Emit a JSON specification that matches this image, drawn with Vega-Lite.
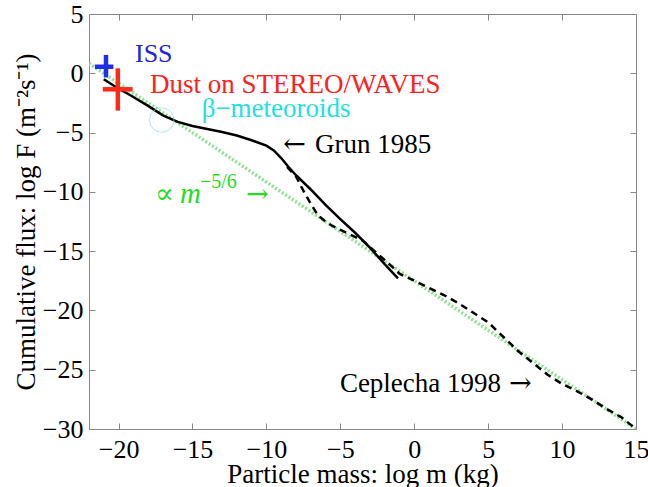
{
  "$schema": "https://vega.github.io/schema/vega-lite/v6.json",
  "width": 547,
  "height": 415,
  "autosize": {"type": "none"},
  "padding": {"left": 89, "top": 14, "right": 12, "bottom": 58},
  "background": "white",
  "config": {
    "font": "Liberation Serif",
    "mark": {"font": "Liberation Serif"},
    "text": {"font": "Liberation Serif"},
    "view": {"stroke": "#888888", "strokeWidth": 1},
    "axis": {
      "labelFont": "Liberation Serif",
      "titleFont": "Liberation Serif",
      "labelFontSize": 26,
      "titleFontSize": 27,
      "labelColor": "black",
      "titleColor": "black",
      "titleFontWeight": "normal",
      "domainColor": "#888888",
      "tickColor": "#888888",
      "tickSize": -6,
      "labelFlush": false,
      "labelOverlap": false,
      "grid": false
    }
  },
  "datasets": {
    "grun": [
      {"logm": -21.0, "logF": -0.5},
      {"logm": -20.0, "logF": -1.3},
      {"logm": -19.2, "logF": -1.85},
      {"logm": -18.0, "logF": -2.75},
      {"logm": -17.0, "logF": -3.55},
      {"logm": -16.0, "logF": -4.1},
      {"logm": -15.0, "logF": -4.45},
      {"logm": -14.0, "logF": -4.7},
      {"logm": -13.0, "logF": -4.95},
      {"logm": -12.0, "logF": -5.25},
      {"logm": -11.0, "logF": -5.65},
      {"logm": -10.0, "logF": -6.1},
      {"logm": -9.5, "logF": -6.5},
      {"logm": -9.0, "logF": -7.15},
      {"logm": -8.5, "logF": -7.9},
      {"logm": -8.0, "logF": -8.6},
      {"logm": -7.0, "logF": -9.8},
      {"logm": -6.0, "logF": -11.1},
      {"logm": -5.0, "logF": -12.3},
      {"logm": -4.0, "logF": -13.45},
      {"logm": -3.0, "logF": -14.7},
      {"logm": -2.0, "logF": -16.1},
      {"logm": -1.1, "logF": -17.3}
    ],
    "ceplecha": [
      {"logm": -8.6, "logF": -7.9},
      {"logm": -8.0, "logF": -8.7},
      {"logm": -7.5, "logF": -9.9},
      {"logm": -7.0, "logF": -11.0},
      {"logm": -6.5, "logF": -12.0},
      {"logm": -6.0, "logF": -12.5},
      {"logm": -5.5, "logF": -12.9},
      {"logm": -4.5, "logF": -13.5},
      {"logm": -3.5, "logF": -14.1},
      {"logm": -2.5, "logF": -15.2},
      {"logm": -1.5, "logF": -16.3},
      {"logm": -1.0, "logF": -16.9},
      {"logm": 0.0, "logF": -17.5},
      {"logm": 1.0, "logF": -18.1},
      {"logm": 2.0, "logF": -18.7},
      {"logm": 3.0, "logF": -19.4},
      {"logm": 4.0, "logF": -20.2},
      {"logm": 5.0, "logF": -21.0},
      {"logm": 6.0, "logF": -22.2},
      {"logm": 7.0, "logF": -23.4},
      {"logm": 8.0, "logF": -24.4},
      {"logm": 9.0, "logF": -25.4},
      {"logm": 10.0, "logF": -26.2},
      {"logm": 11.0, "logF": -26.8},
      {"logm": 12.0, "logF": -27.5},
      {"logm": 13.0, "logF": -28.3},
      {"logm": 14.0, "logF": -29.0},
      {"logm": 15.0, "logF": -30.0}
    ],
    "powerlaw": [
      {"logm": -22.0, "logF": 0.83},
      {"logm": 15.0, "logF": -30.0}
    ],
    "crosses": [
      {"obs": "ISS", "x": -20.85, "xlo": -21.6, "xhi": -20.35, "y": 0.55, "ylo": -0.35, "yhi": 1.55},
      {"obs": "STEREO/WAVES", "x": -20.05, "xlo": -21.07, "xhi": -19.05, "y": -1.35, "ylo": -3.15, "yhi": 0.42}
    ]
  },
  "layer": [
    {
      "data": {"name": "powerlaw"},
      "mark": {"type": "line", "color": "#8fe28f", "strokeWidth": 3.5, "strokeDash": [2, 2], "clip": true},
      "encoding": {
        "x": {"field": "logm", "type": "quantitative", "scale": {"domain": [-22, 15], "nice": false, "zero": false},
              "axis": {"orient": "top", "labels": false, "title": null, "values": [-20, -15, -10, -5, 0, 5, 10, 15]}},
        "y": {"field": "logF", "type": "quantitative", "scale": {"domain": [-30, 5], "nice": false, "zero": false},
              "axis": {"orient": "right", "labels": false, "title": null, "values": [-30, -25, -20, -15, -10, -5, 0, 5]}}
      }
    },
    {
      "data": {"name": "ceplecha"},
      "mark": {"type": "line", "color": "black", "strokeWidth": 2.5, "strokeDash": [7, 5]},
      "encoding": {
        "x": {"field": "logm", "type": "quantitative",
              "axis": {"orient": "bottom", "title": "Particle mass: log m (kg)", "values": [-20, -15, -10, -5, 0, 5, 10, 15], "labelPadding": 13, "titlePadding": -1}},
        "y": {"field": "logF", "type": "quantitative",
              "axis": {"orient": "left", "title": "Cumulative flux: log F  (m⁻²s⁻¹)", "values": [-30, -25, -20, -15, -10, -5, 0, 5], "labelPadding": 12, "titlePadding": 2}}
      }
    },
    {
      "data": {"name": "grun"},
      "mark": {"type": "line", "color": "black", "strokeWidth": 2.5},
      "encoding": {
        "x": {"field": "logm", "type": "quantitative", "axis": null},
        "y": {"field": "logF", "type": "quantitative", "axis": null}
      }
    },
    {
      "data": {"values": [{"logm": -17.08, "logF": -3.94}]},
      "mark": {"type": "point", "shape": "circle", "size": 600, "color": "#7ee8e8", "strokeWidth": 1, "filled": false},
      "encoding": {
        "x": {"field": "logm", "type": "quantitative", "axis": null},
        "y": {"field": "logF", "type": "quantitative", "axis": null}
      }
    },
    {
      "data": {"name": "crosses"},
      "mark": {"type": "rule", "strokeWidth": 4.5},
      "encoding": {
        "x": {"field": "xlo", "type": "quantitative", "axis": null},
        "x2": {"field": "xhi"},
        "y": {"field": "y", "type": "quantitative", "axis": null},
        "color": {"field": "obs", "type": "nominal", "scale": {"domain": ["ISS", "STEREO/WAVES"], "range": ["#1f2fe8", "#ff2a1a"]}, "legend": null}
      }
    },
    {
      "data": {"name": "crosses"},
      "mark": {"type": "rule", "strokeWidth": 4.5},
      "encoding": {
        "x": {"field": "x", "type": "quantitative", "axis": null},
        "y": {"field": "ylo", "type": "quantitative", "axis": null},
        "y2": {"field": "yhi"},
        "color": {"field": "obs", "type": "nominal", "legend": null}
      }
    },
    {
      "data": {"values": [{"logm": -18.89, "logF": 0.98, "label": "ISS"}]},
      "mark": {"type": "text", "align": "left", "baseline": "alphabetic", "font": "Liberation Serif", "fontSize": 26, "color": "#2424e0"},
      "encoding": {"x": {"field": "logm", "type": "quantitative", "axis": null}, "y": {"field": "logF", "type": "quantitative", "axis": null}, "text": {"field": "label"}}
    },
    {
      "data": {"values": [{"logm": -17.88, "logF": -1.69, "label": "Dust on STEREO/WAVES"}]},
      "mark": {"type": "text", "align": "left", "baseline": "alphabetic", "font": "Liberation Serif", "fontSize": 27, "color": "#ff2020"},
      "encoding": {"x": {"field": "logm", "type": "quantitative", "axis": null}, "y": {"field": "logF", "type": "quantitative", "axis": null}, "text": {"field": "label"}}
    },
    {
      "data": {"values": [{"logm": -14.38, "logF": -3.66, "label": "β−meteoroids"}]},
      "mark": {"type": "text", "align": "left", "baseline": "alphabetic", "font": "Liberation Serif", "fontSize": 27, "color": "#22e0e0"},
      "encoding": {"x": {"field": "logm", "type": "quantitative", "axis": null}, "y": {"field": "logF", "type": "quantitative", "axis": null}, "text": {"field": "label"}}
    },
    {
      "data": {"values": [{"logm": -6.72, "logF": -6.72, "label": "Grun 1985"}]},
      "mark": {"type": "text", "align": "left", "baseline": "alphabetic", "font": "Liberation Serif", "fontSize": 27, "color": "black"},
      "encoding": {"x": {"field": "logm", "type": "quantitative", "axis": null}, "y": {"field": "logF", "type": "quantitative", "axis": null}, "text": {"field": "label"}}
    },
    {
      "data": {"values": [{"logm": -5.03, "logF": -26.85, "label": "Ceplecha 1998"}]},
      "mark": {"type": "text", "align": "left", "baseline": "alphabetic", "font": "Liberation Serif", "fontSize": 27, "color": "black"},
      "encoding": {"x": {"field": "logm", "type": "quantitative", "axis": null}, "y": {"field": "logF", "type": "quantitative", "axis": null}, "text": {"field": "label"}}
    },
    {
      "data": {"values": [{"logm": -8.09, "logF": -6.72, "label": "←"}, {"logm": 7.18, "logF": -26.85, "label": "→"}]},
      "mark": {"type": "text", "align": "center", "baseline": "alphabetic", "font": "DejaVu Serif", "fontSize": 27, "color": "black"},
      "encoding": {"x": {"field": "logm", "type": "quantitative", "axis": null}, "y": {"field": "logF", "type": "quantitative", "axis": null}, "text": {"field": "label"}}
    },
    {
      "data": {"values": [{"logm": -17.54, "logF": -10.96, "label": "∝"}]},
      "mark": {"type": "text", "align": "left", "baseline": "alphabetic", "font": "DejaVu Serif", "fontSize": 28, "color": "#22dd22"},
      "encoding": {"x": {"field": "logm", "type": "quantitative", "axis": null}, "y": {"field": "logF", "type": "quantitative", "axis": null}, "text": {"field": "label"}}
    },
    {
      "data": {"values": [{"logm": -15.85, "logF": -10.96, "label": "m"}]},
      "mark": {"type": "text", "align": "left", "baseline": "alphabetic", "font": "Liberation Serif", "fontSize": 29, "fontStyle": "italic", "color": "#22dd22"},
      "encoding": {"x": {"field": "logm", "type": "quantitative", "axis": null}, "y": {"field": "logF", "type": "quantitative", "axis": null}, "text": {"field": "label"}}
    },
    {
      "data": {"values": [{"logm": -14.5, "logF": -9.67, "label": "−5/6"}]},
      "mark": {"type": "text", "align": "left", "baseline": "alphabetic", "font": "Liberation Serif", "fontSize": 20, "color": "#22dd22"},
      "encoding": {"x": {"field": "logm", "type": "quantitative", "axis": null}, "y": {"field": "logF", "type": "quantitative", "axis": null}, "text": {"field": "label"}}
    },
    {
      "data": {"values": [{"logm": -10.61, "logF": -10.96, "label": "→"}]},
      "mark": {"type": "text", "align": "center", "baseline": "alphabetic", "font": "DejaVu Serif", "fontSize": 27, "color": "#22dd22"},
      "encoding": {"x": {"field": "logm", "type": "quantitative", "axis": null}, "y": {"field": "logF", "type": "quantitative", "axis": null}, "text": {"field": "label"}}
    }
  ],
  "resolve": {"axis": {"x": "independent", "y": "independent"}}
}
